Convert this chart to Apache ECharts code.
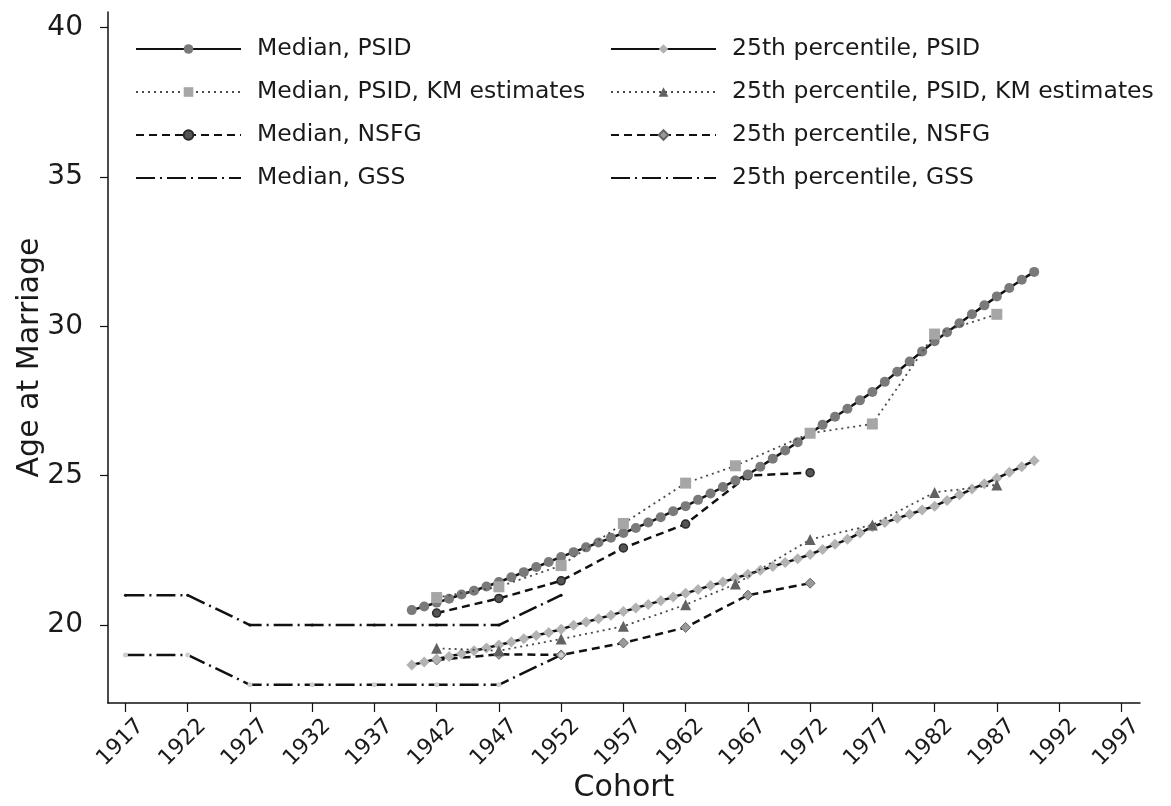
<!DOCTYPE html>
<html><head><meta charset="utf-8">
<script src="https://cdn.jsdelivr.net/npm/echarts@6/dist/echarts.min.js"></script>
<style>html,body{margin:0;padding:0;background:#fff}#c{width:1171px;height:806px}</style>
</head><body><div id="c"></div>
<script>
// ---- data ----
const psidYears = [1940,1941,1942,1943,1944,1945,1946,1947,1948,1949,1950,1951,1952,1953,1954,1955,1956,1957,1958,1959,1960,1961,1962,1963,1964,1965,1966,1967,1968,1969,1970,1971,1972,1973,1974,1975,1976,1977,1978,1979,1980,1981,1982,1983,1984,1985,1986,1987,1988,1989,1990];
const medianPSID = [20.50,20.62,20.75,20.88,21.02,21.15,21.29,21.44,21.60,21.77,21.94,22.11,22.28,22.44,22.60,22.76,22.92,23.08,23.25,23.43,23.61,23.81,23.98,24.19,24.40,24.62,24.84,25.04,25.30,25.57,25.84,26.12,26.42,26.70,26.97,27.24,27.52,27.80,28.14,28.48,28.82,29.16,29.50,29.80,30.10,30.40,30.70,31.00,31.28,31.56,31.82];
const p25PSID = [18.66,18.76,18.86,18.95,19.04,19.14,19.23,19.33,19.43,19.54,19.65,19.75,19.86,19.99,20.10,20.21,20.33,20.45,20.57,20.69,20.81,20.94,21.06,21.19,21.32,21.44,21.57,21.70,21.83,21.96,22.09,22.22,22.36,22.53,22.70,22.87,23.08,23.29,23.43,23.57,23.71,23.85,23.98,24.17,24.36,24.55,24.73,24.91,25.11,25.30,25.50];
const kmYears = [1942,1947,1952,1957,1962,1966,1972,1977,1982,1987];
const medianKM = [20.92,21.28,21.99,23.40,24.75,25.33,26.42,26.73,29.74,30.40];
const p25KM = [19.22,19.14,19.53,19.96,20.68,21.37,22.86,23.35,24.44,24.69];
const nsfgYears = [1942,1947,1952,1957,1962,1967,1972];
const medianNSFG = [20.40,20.89,21.48,22.58,23.38,25.00,25.10];
const p25NSFG = [18.83,19.02,19.00,19.40,19.92,21.00,21.40];
const gssYears = [1917,1922,1927,1932,1937,1942,1947,1952];
const medianGSS = [21,21,20,20,20,20,20,21];
const p25GSS = [19,19,18,18,18,18,18,19];
const xTicks = [1917,1922,1927,1932,1937,1942,1947,1952,1957,1962,1967,1972,1977,1982,1987,1992,1997];
const yTicks = [20,25,30,35,40];

// ---- chart ----
const FONT = 'DejaVu Sans';
const chart = echarts.init(document.getElementById('c'));
function pairs(xs, ys) { return xs.map((x, i) => [x, ys[i]]); }
function mk(name, xs, ys, o) {
  return {
    name: name, type: 'line', data: pairs(xs, ys),
    symbol: o.symbol, symbolSize: o.size, showSymbol: true, showAllSymbol: true,
    lineStyle: { color: o.lc, width: o.lw, type: o.lt },
    itemStyle: { color: o.mc, borderColor: o.bc || o.mc, borderWidth: o.bw || 0 },
    emphasis: { disabled: true }, z: o.z || 2, animation: false
  };
}
const DASH = [8, 5], DOT = [2, 4], DASHDOT = [19, 5, 2, 5];
const series = [
  mk('Median, PSID', psidYears, medianPSID, { symbol: 'circle', size: 10, lc: '#111', lw: 2.5, lt: 'solid', mc: '#7a7a7a', z: 3 }),
  mk('Median, PSID, KM estimates', kmYears, medianKM, { symbol: 'rect', size: 11, lc: '#4a4a4a', lw: 1.8, lt: DOT, mc: '#a6a6a6', z: 4 }),
  mk('Median, NSFG', nsfgYears, medianNSFG, { symbol: 'circle', size: 8, lc: '#111', lw: 2.5, lt: DASH, mc: '#555', bc: '#2a2a2a', bw: 1.5 }),
  mk('Median, GSS', gssYears, medianGSS, { symbol: 'circle', size: 3, lc: '#111', lw: 2.5, lt: DASHDOT, mc: '#111' }),
  mk('25th percentile, PSID', psidYears, p25PSID, { symbol: 'diamond', size: 11, lc: '#111', lw: 2.5, lt: 'solid', mc: '#b3b3b3', z: 3 }),
  mk('25th percentile, PSID, KM estimates', kmYears, p25KM, { symbol: 'triangle', size: 11, lc: '#4a4a4a', lw: 1.8, lt: DOT, mc: '#626262', z: 4 }),
  mk('25th percentile, NSFG', nsfgYears, p25NSFG, { symbol: 'diamond', size: 10, lc: '#111', lw: 2.5, lt: DASH, mc: '#9a9a9a', bc: '#666', bw: 1 }),
  mk('25th percentile, GSS', gssYears, p25GSS, { symbol: 'circle', size: 5, lc: '#111', lw: 2.5, lt: DASHDOT, mc: '#cfcfcf' })
];
const legendBase = {
  orient: 'vertical', top: 32, itemWidth: 105, itemHeight: 12, itemGap: 19,
  selectedMode: false,
  textStyle: { fontFamily: FONT, fontSize: 23.5, color: '#1a1a1a', lineHeight: 24, padding: [0, 0, 0, 11] }
};
chart.setOption({
  backgroundColor: '#fff',
  animation: false,
  grid: { left: 108, right: 31, top: 12, bottom: 103, containLabel: false, outerBoundsMode: 'none' },
  legend: [
    Object.assign({}, legendBase, { left: 130, data: ['Median, PSID', 'Median, PSID, KM estimates', 'Median, NSFG', { name: 'Median, GSS', itemStyle: { opacity: 0 } }] }),
    Object.assign({}, legendBase, { left: 605, data: ['25th percentile, PSID', '25th percentile, PSID, KM estimates', '25th percentile, NSFG', { name: '25th percentile, GSS', itemStyle: { opacity: 0 } }] })
  ],
  xAxis: {
    type: 'value', min: 1915.6, max: 1998.5,
    name: 'Cohort', nameLocation: 'middle', nameGap: 70, nameMoveOverlap: false,
    nameTextStyle: { fontFamily: FONT, fontSize: 30, color: '#1a1a1a' },
    axisLine: { show: true, lineStyle: { color: '#111', width: 1.5 } },
    axisTick: { show: true, length: 9, lineStyle: { color: '#111', width: 1.2 }, customValues: xTicks },
    axisLabel: { rotate: 45, margin: 12, verticalAlign: 'top', padding: [5, -5, 0, 0], fontFamily: FONT, fontSize: 22, color: '#1a1a1a', customValues: xTicks, formatter: v => String(v) },
    splitLine: { show: false }
  },
  yAxis: {
    type: 'value', min: 17.39, max: 40.52,
    name: 'Age at Marriage', nameLocation: 'middle', nameGap: 63, nameMoveOverlap: false,
    nameTextStyle: { fontFamily: FONT, fontSize: 30, color: '#1a1a1a' },
    axisLine: { show: true, lineStyle: { color: '#111', width: 1.5 } },
    axisTick: { show: true, length: 8, lineStyle: { color: '#111', width: 1.2 }, customValues: yTicks },
    axisLabel: { margin: 25, fontFamily: FONT, fontSize: 28, color: '#1a1a1a', customValues: yTicks },
    splitLine: { show: false }
  },
  series: series
});
</script>
</body></html>
